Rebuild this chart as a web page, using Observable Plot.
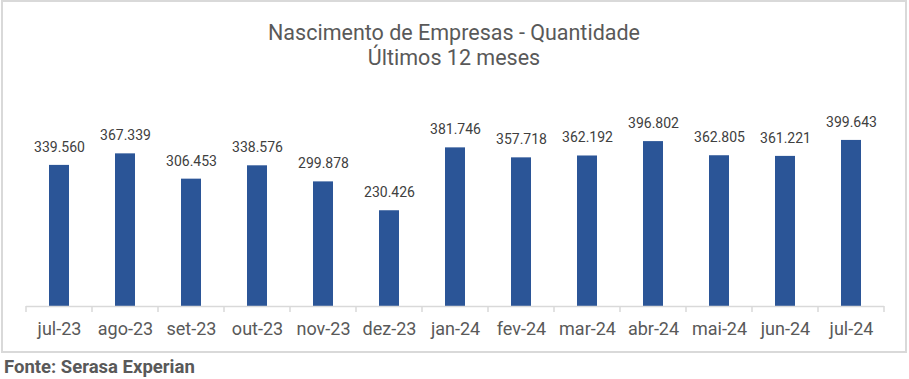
<!DOCTYPE html>
<html>
<head>
<meta charset="utf-8">
<script src="https://cdn.jsdelivr.net/npm/d3@7"></script>
<script src="https://cdn.jsdelivr.net/npm/@observablehq/plot@0.6"></script>
<style>
  html, body { margin: 0; padding: 0; background: #fff; }
  body { font-family: Roboto, "Noto Sans", sans-serif; color: #595959; }
  #box { position: absolute; left: 1px; top: 0px; width: 906px; height: 353px; box-sizing: border-box; border: 2px solid #d9d9d9; background: #fff; }
  #title { text-align: center; font-size: 21.5px; line-height: 25px; padding-top: 18px; height: 52px; color: #595959; }
  #chart svg { display: block; }
  #source { position: absolute; left: 4px; top: 355.5px; font-size: 18.5px; font-weight: bold; color: #595959; }
</style>
</head>
<body>
<div id="box">
  <div id="title">Nascimento de Empresas - Quantidade<br>Últimos 12 meses</div>
  <div id="chart"></div>
</div>
<div id="source">Fonte: Serasa Experian</div>
<script>
const months = ["jul-23","ago-23","set-23","out-23","nov-23","dez-23","jan-24","fev-24","mar-24","abr-24","mai-24","jun-24","jul-24"];
const values = [339560, 367339, 306453, 338576, 299878, 230426, 381746, 357718, 362192, 396802, 362805, 361221, 399643];
const data = months.map((m, i) => ({month: m, value: values[i]}));

const fmt = v => v.toLocaleString("pt-BR");

const boundaryTicks = (index, scales, values, dims) => {
  const x = scales.x, y = scales.y;
  const starts = months.map(m => x(m));
  const step = starts[1] - starts[0];
  starts.push(starts[starts.length - 1] + step);
  const y0 = y(0);
  const g = d3.create("svg:g");
  g.append("line")
    .attr("x1", starts[0]).attr("x2", starts[starts.length - 1])
    .attr("y1", y0 + 0.5).attr("y2", y0 + 0.5)
    .attr("stroke", "#d9d9d9").attr("stroke-width", 1.5);
  g.selectAll("line.t").data(starts).join("line")
    .attr("class", "t")
    .attr("x1", d => d).attr("x2", d => d)
    .attr("y1", y0).attr("y2", y0 + 6)
    .attr("stroke", "#d9d9d9").attr("stroke-width", 1.5);
  return g.node();
};

const chart = Plot.plot({
  width: 902,
  height: 279,
  marginLeft: 22,
  marginRight: 20,
  marginTop: 47,
  marginBottom: 45,
  style: {fontFamily: "Roboto, sans-serif", color: "#595959", background: "#fff"},
  x: {domain: months, padding: 0, label: null},
  y: {domain: [0, 450000], axis: null},
  marks: [
    Plot.barY(data, {x: "month", y: "value", fill: "#2B5597", insetLeft: 23, insetRight: 23}),
    Plot.text(data, {x: "month", y: "value", text: d => fmt(d.value), dy: -18, fontSize: 14, fill: "#404040"}),
    Plot.axisX({tickSize: 0, tickPadding: 16, fontSize: 18, fill: "#595959", label: null}),
    boundaryTicks
  ]
});
document.getElementById("chart").appendChild(chart);
</script>
</body>
</html>
